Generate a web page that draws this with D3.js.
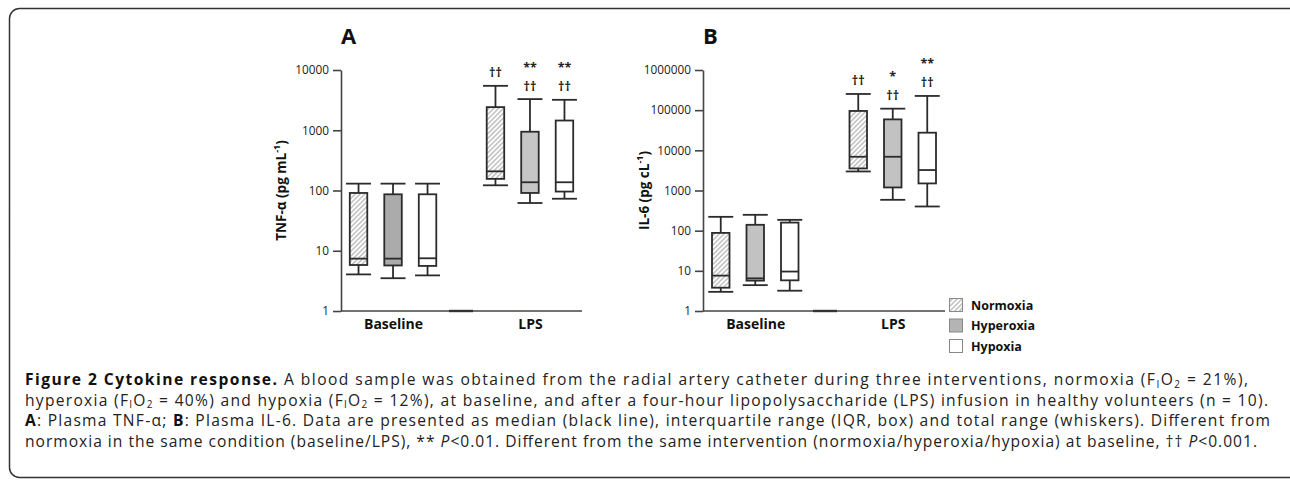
<!DOCTYPE html>
<html><head><meta charset="utf-8">
<script src="https://cdn.jsdelivr.net/npm/d3@7"></script>
<style>body{margin:0;background:#fff}svg{display:block}</style>
</head><body><svg id="c" width="1290" height="480"></svg>
<script>
// ---------- DATA ----------
const groups = ["Baseline", "LPS"];
const series = ["Normoxia", "Hyperoxia", "Hypoxia"];
const tnfTicks = [1, 10, 100, 1000, 10000];
const il6Ticks = [1, 10, 100, 1000, 10000, 100000, 1000000];
// each entry: [min, Q1, median, Q3, max] for Normoxia, Hyperoxia, Hypoxia
const tnfBaseline = [[4.05, 5.8, 7.4, 91, 130], [3.5, 5.7, 7.4, 86.5, 130], [3.9, 5.6, 7.5, 86.5, 130]];
const tnfLPS = [[122, 156, 208, 2420, 5460], [62, 91, 137, 945, 3290], [73, 96, 137, 1450, 3200]];
const il6Baseline = [[3.0, 3.8, 7.6, 88, 221], [4.4, 5.7, 6.5, 140, 248], [3.2, 5.8, 9.6, 159, 186]];
const il6LPS = [[2980, 3540, 6920, 95600, 253000], [586, 1190, 6920, 59000, 109000], [400, 1500, 3230, 27500, 226000]];
// significance marks, listed from the whisker upwards
const noMarks = [[], [], []];
const tnfLPSMarks = [["††"], ["††", "**"], ["††", "**"]];
const il6LPSMarks = [["††"], ["††", "*"], ["††", "**"]];
const tnfTitle = ["TNF-α (pg mL", "-1", ")"];
const il6Title = ["IL-6 (pg cL", "-1", ")"];
const captionLines = [
  [{t: "Figure 2 Cytokine response.", b: 1}, {t: " A blood sample was obtained from the radial artery catheter during three interventions, normoxia (F"}, {t: "I", sub: 1}, {t: "O"}, {t: "2", sub: 1}, {t: " = 21%),"}],
  [{t: "hyperoxia (F"}, {t: "I", sub: 1}, {t: "O"}, {t: "2", sub: 1}, {t: " = 40%) and hypoxia (F"}, {t: "I", sub: 1}, {t: "O"}, {t: "2", sub: 1}, {t: " = 12%), at baseline, and after a four-hour lipopolysaccharide (LPS) infusion in healthy volunteers (n = 10)."}],
  [{t: "A", b: 1}, {t: ": Plasma TNF-α; "}, {t: "B", b: 1}, {t: ": Plasma IL-6. Data are presented as median (black line), interquartile range (IQR, box) and total range (whiskers). Different from"}],
  [{t: "normoxia in the same condition (baseline/LPS), ** "}, {t: "P", i: 1}, {t: "<0.01. Different from the same intervention (normoxia/hyperoxia/hypoxia) at baseline, †† "}, {t: "P", i: 1}, {t: "<0.001."}]
];

// ---------- LAYOUT / STYLE ----------
const FONT = "'Open Sans', 'DejaVu Sans', sans-serif";
const svg = d3.select("#c");
const defs = svg.append("defs");
const pat = defs.append("pattern").attr("id", "hatch").attr("patternUnits", "userSpaceOnUse")
  .attr("width", 3.4).attr("height", 3.4).attr("patternTransform", "rotate(45)");
pat.append("rect").attr("width", 3.4).attr("height", 3.4).attr("fill", "#fff");
pat.append("line").attr("x1", 0.8).attr("y1", 0).attr("x2", 0.8).attr("y2", 3.4)
  .attr("stroke", "#a8a8a8").attr("stroke-width", 1.1);

// frame
svg.append("rect").attr("x", 9.5).attr("y", 8.5).attr("width", 1300).attr("height", 469)
  .attr("rx", 10).attr("fill", "none").attr("stroke", "#333").attr("stroke-width", 1.5);

const panels = [
  {letter: "A", title: tnfTitle, ticks: tnfTicks, data: [tnfBaseline, tnfLPS], marks: [noMarks, tnfLPSMarks],
   x0: 341, x1: 582, brk: [449, 473], titleX: 281, hyperFill: ["#ababab", "#c6c6c6"]},
  {letter: "B", title: il6Title, ticks: il6Ticks, data: [il6Baseline, il6LPS], marks: [noMarks, il6LPSMarks],
   x0: 703, x1: 945, brk: [813, 837], titleX: 644, hyperFill: ["#c2c2c2", "#c2c2c2"]}
];
const yTop = 70, yBot = 311;
const boxW = 17.5, capW = 25;
const ink = "#2b2b2b";

panels.forEach(p => {
  const g = svg.append("g");
  const y = d3.scaleLog().domain([p.ticks[0], p.ticks[p.ticks.length - 1]]).range([yBot, yTop]);
  const x = d3.scalePoint().domain(groups).range([p.x0, p.x1]).padding(0.38);
  const xs = d3.scalePoint().domain(series).range([-34.5, 34.5]);

  // y axis
  const ya = g.append("g").attr("transform", `translate(${p.x0},0)`)
    .call(d3.axisLeft(y).tickValues(p.ticks).tickFormat(d3.format("d")).tickSize(8).tickSizeOuter(0).tickPadding(4));
  ya.select(".domain").attr("stroke", "#444").attr("stroke-width", 1.6);
  ya.selectAll(".tick line").attr("stroke", "#444").attr("stroke-width", 1.6);
  ya.selectAll(".tick text").attr("font-family", FONT).attr("font-size", 11.8).attr("fill", "#222");

  // x axis
  const xa = g.append("g").attr("transform", `translate(0,${yBot})`)
    .call(d3.axisBottom(x).tickSize(0).tickPadding(8));
  xa.select(".domain").attr("d", `M${p.x0},0H${p.x1}`).attr("stroke", "#444").attr("stroke-width", 1.6);
  xa.selectAll(".tick text").attr("font-family", FONT).attr("font-size", 14).attr("font-weight", 700).attr("fill", "#111");
  g.append("line").attr("x1", p.brk[0]).attr("x2", p.brk[1]).attr("y1", yBot).attr("y2", yBot)
    .attr("stroke", "#333").attr("stroke-width", 2.4);

  // panel letter
  g.append("text").attr("x", p.x0).attr("y", 44).attr("font-family", FONT).attr("font-weight", 700)
    .attr("font-size", 22).attr("fill", "#111").text(p.letter);

  // y title
  const t = g.append("text").attr("transform", `translate(${p.titleX},${(yTop + yBot) / 2}) rotate(-90)`)
    .attr("text-anchor", "middle").attr("dominant-baseline", "central")
    .attr("font-family", FONT).attr("font-weight", 700).attr("font-size", 13.5).attr("fill", "#111");
  t.append("tspan").text(p.title[0]);
  t.append("tspan").attr("dy", -5).attr("font-size", 9).text(p.title[1]);
  t.append("tspan").attr("dy", 5).text(p.title[2]);

  // boxes
  groups.forEach((grp, gi) => {
    series.forEach((s, si) => {
      const [mn, q1, md, q3, mx] = p.data[gi][si];
      const cx = x(grp) + xs(s);
      const fill = s === "Normoxia" ? "url(#hatch)" : s === "Hyperoxia" ? p.hyperFill[gi] : "#fff";
      const bg = g.append("g").attr("stroke", ink).attr("stroke-width", 1.8);
      bg.append("line").attr("x1", cx).attr("x2", cx).attr("y1", y(mx)).attr("y2", y(q3));
      bg.append("line").attr("x1", cx).attr("x2", cx).attr("y1", y(q1)).attr("y2", y(mn));
      bg.append("line").attr("x1", cx - capW / 2).attr("x2", cx + capW / 2).attr("y1", y(mx)).attr("y2", y(mx));
      bg.append("line").attr("x1", cx - capW / 2).attr("x2", cx + capW / 2).attr("y1", y(mn)).attr("y2", y(mn));
      bg.append("rect").attr("x", cx - boxW / 2).attr("width", boxW).attr("y", y(q3)).attr("height", y(q1) - y(q3))
        .attr("fill", fill);
      bg.append("line").attr("x1", cx - boxW / 2).attr("x2", cx + boxW / 2).attr("y1", y(md)).attr("y2", y(md));
      p.marks[gi][si].forEach((m, mi) => {
        g.append("text").attr("x", cx).attr("y", y(mx) - 13 - mi * 19).attr("text-anchor", "middle")
          .attr("dominant-baseline", "central").attr("font-family", FONT).attr("font-weight", 700)
          .attr("font-size", 12.5).attr("fill", "#222").text(m);
      });
    });
  });
});

// legend
const leg = svg.append("g");
series.forEach((s, i) => {
  const yy = 298.5 + i * 20.5;
  leg.append("rect").attr("x", 949.5).attr("y", yy).attr("width", 13).attr("height", 13)
    .attr("fill", s === "Normoxia" ? "url(#hatch)" : s === "Hyperoxia" ? "#b4b4b4" : "#fff")
    .attr("stroke", "#888").attr("stroke-width", 1);
  leg.append("text").attr("x", 971).attr("y", yy + 6.5).attr("dominant-baseline", "central")
    .attr("font-family", FONT).attr("font-weight", 700).attr("font-size", 12.5).attr("fill", "#111").text(s);
});

// caption
const capBase = [385, 405.5, 426, 446.5];
const capLen = [1223, 1243, 1245, 1232];
captionLines.forEach((segs, li) => {
  const t = svg.append("text").attr("x", 25).attr("y", capBase[li])
    .attr("font-family", FONT).attr("font-size", 15.6).attr("fill", "#222")
    .attr("textLength", capLen[li]).attr("lengthAdjust", "spacing");
  let inSub = false;
  segs.forEach(sg => {
    const ts = t.append("tspan").text(sg.t);
    if (sg.b) ts.attr("font-weight", 700).attr("fill", "#111");
    if (sg.i) ts.attr("font-style", "italic");
    if (sg.sub) { ts.attr("font-size", 10); if (!inSub) ts.attr("dy", 2.5); inSub = true; }
    else if (inSub) { ts.attr("dy", -2.5); inSub = false; }
  });
});
</script></body></html>
